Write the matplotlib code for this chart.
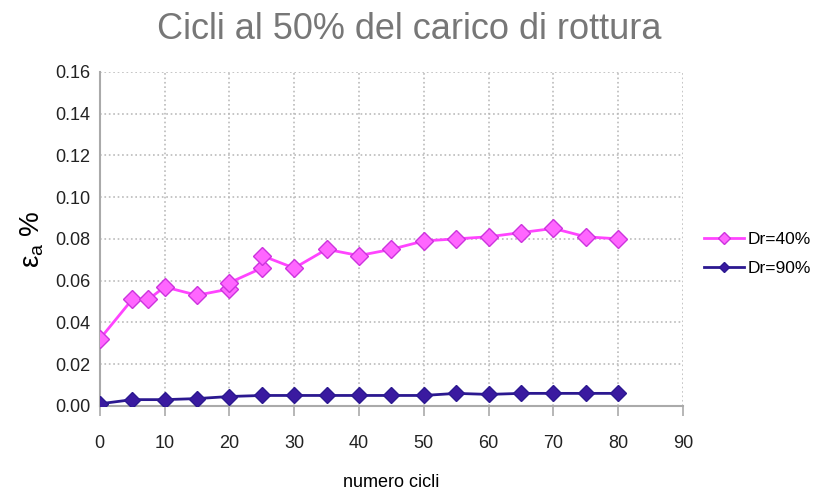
import matplotlib.pyplot as plt

# data
x_40 = [0, 5, 7.5, 10, 15, 20, 20, 25, 25, 30, 35, 40, 45, 50, 55, 60, 65, 70, 75, 80]
y_40 = [0.032, 0.051, 0.051, 0.057, 0.053, 0.056, 0.059, 0.066, 0.072, 0.066, 0.075,
        0.072, 0.075, 0.079, 0.080, 0.081, 0.083, 0.085, 0.081, 0.080]

x_90 = [0, 5, 10, 15, 20, 25, 30, 35, 40, 45, 50, 55, 60, 65, 70, 75, 80]
y_90 = [0.001, 0.003, 0.003, 0.0035, 0.0045, 0.005, 0.005, 0.005, 0.005, 0.005, 0.005,
        0.006, 0.0055, 0.006, 0.006, 0.006, 0.006]

x_ticks = [0, 10, 20, 30, 40, 50, 60, 70, 80, 90]
y_ticks = [0.00, 0.02, 0.04, 0.06, 0.08, 0.10, 0.12, 0.14, 0.16]

plt.rcParams['font.family'] = ['Liberation Sans', 'DejaVu Sans']

fig = plt.figure(figsize=(8.18, 4.92), dpi=100)
ax = fig.add_axes([0.122, 0.175, 0.713, 0.679])

ax.plot(x_40, y_40, color="#ff44ff", lw=2, marker="D", ms=9,
        mfc="#ff66ff", mec="#cc33dd", label="Dr=40%", zorder=3)
ax.plot(x_90, y_90, color="#2b1890", lw=2, marker="D", ms=8,
        mfc="#3a1aa0", mec="#2b1890", label="Dr=90%", zorder=3)

ax.set_xlim(0, 90)
ax.set_ylim(0, 0.16)
ax.set_xticks(x_ticks)
ax.set_yticks(y_ticks)
ax.set_yticklabels(["%.2f" % v for v in y_ticks])
ax.tick_params(labelsize=13, colors="#222222", color="#aaaaaa")
ax.tick_params(axis="x", length=7, width=1.2, pad=14)
ax.tick_params(axis="y", length=0, pad=7)

ax.grid(True, color="#bbbbbb", linestyle=":", linewidth=1.2)
for s in ax.spines.values():
	s.set_color("#aaaaaa")
	s.set_linewidth(1.5)
ax.spines["right"].set_visible(False)
ax.spines["top"].set_visible(False)

fig.suptitle("Cicli al 50% del carico di rottura", fontsize=26, color="#777777", y=0.975)
ax.set_xlabel("numero cicli", fontsize=13, labelpad=16)
ax.set_ylabel(r"$\mathregular{\varepsilon_a}$ %", fontsize=20, labelpad=6)

ax.legend(loc="center left", bbox_to_anchor=(1.01, 0.455), frameon=False,
          fontsize=12.5, handlelength=2.3, markerscale=0.7, labelspacing=0.8,
          handletextpad=0.2)

fig.savefig("out.png", dpi=100)
